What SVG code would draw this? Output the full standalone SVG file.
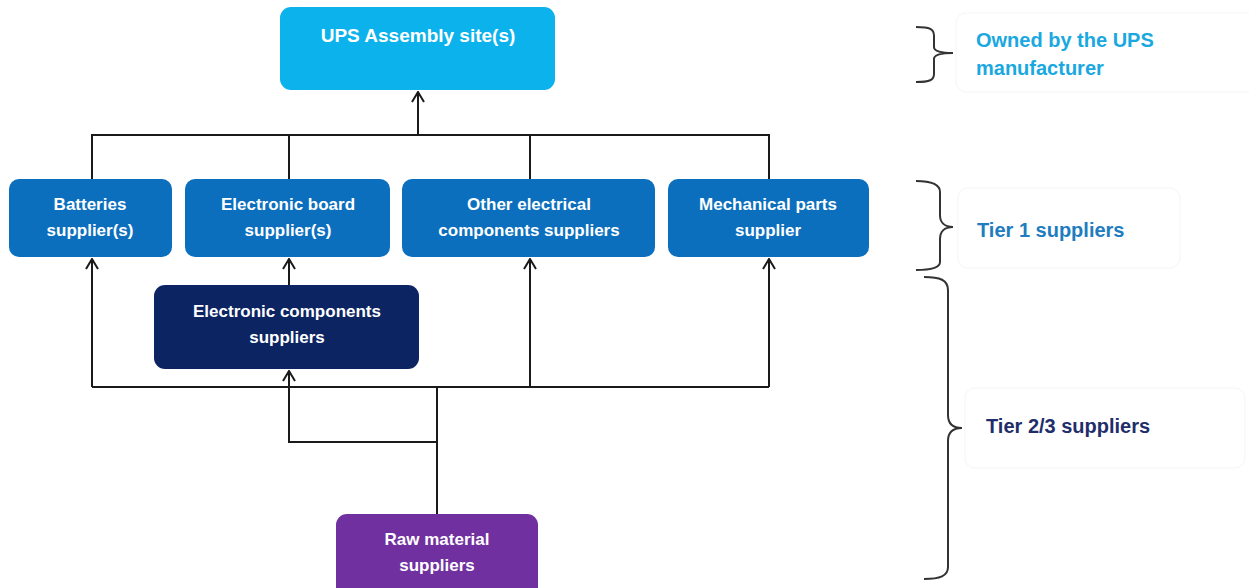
<svg xmlns="http://www.w3.org/2000/svg" width="1249" height="588" viewBox="0 0 1249 588">
<style>
.box{stroke:none}
.t{font-family:"Liberation Sans",Arial,sans-serif;font-weight:bold;fill:#fff;text-anchor:middle;font-size:17px}
.conn{fill:none;stroke:#1a1a1a;stroke-width:2}
.brace{fill:none;stroke:#333;stroke-width:2}
.lab{font-family:"Liberation Sans",Arial,sans-serif;font-weight:bold;font-size:20px}
.lbox{fill:#fff;stroke:#f5f5f5;stroke-width:1}
</style>
<defs>
<marker id="arr" viewBox="0 0 12 14" refX="11" refY="7" markerWidth="12" markerHeight="14" markerUnits="userSpaceOnUse" orient="auto">
<polyline points="1,1 11,7 1,13" fill="none" stroke="#1a1a1a" stroke-width="2"/>
</marker>
</defs>
<rect width="1249" height="588" fill="#fff"/>
<g id="connectors">
<path class="conn" d="M92,180 V135 H769 V180 M289,135 V180 M530,135 V180"/>
<path class="conn" d="M418,135 V92" marker-end="url(#arr)"/>
<path class="conn" d="M437,515 V387"/>
<path class="conn" d="M92,387 H769"/>
<path class="conn" d="M92,387 V259" marker-end="url(#arr)"/>
<path class="conn" d="M530,387 V259" marker-end="url(#arr)"/>
<path class="conn" d="M769,387 V259" marker-end="url(#arr)"/>
<path class="conn" d="M289,285 V259" marker-end="url(#arr)"/>
<path class="conn" d="M437,442 H289 V371" marker-end="url(#arr)"/>
</g>
<g id="ups">
<rect class="box" x="280" y="7" width="275" height="83" rx="11" fill="#0CB2EC"/>
<text class="t" x="418" y="42" style="font-size:19px">UPS Assembly site(s)</text>
</g>
<g id="batteries">
<rect class="box" x="9" y="179" width="163" height="78" rx="10" fill="#0B6FBE"/>
<text class="t" x="90" y="210">Batteries</text>
<text class="t" x="90" y="236">supplier(s)</text>
</g>
<g id="eboard">
<rect class="box" x="185" y="179" width="205" height="78" rx="10" fill="#0B6FBE"/>
<text class="t" x="288" y="210">Electronic board</text>
<text class="t" x="288" y="236">supplier(s)</text>
</g>
<g id="other">
<rect class="box" x="402" y="179" width="253" height="78" rx="10" fill="#0B6FBE"/>
<text class="t" x="529" y="210">Other electrical</text>
<text class="t" x="529" y="236">components suppliers</text>
</g>
<g id="mech">
<rect class="box" x="668" y="179" width="201" height="78" rx="10" fill="#0B6FBE"/>
<text class="t" x="768" y="210">Mechanical parts</text>
<text class="t" x="768" y="236">supplier</text>
</g>
<g id="ecomp">
<rect class="box" x="154" y="285" width="265" height="84" rx="11" fill="#0C2462"/>
<text class="t" x="287" y="317">Electronic components</text>
<text class="t" x="287" y="343">suppliers</text>
</g>
<g id="raw">
<rect class="box" x="336" y="514" width="202" height="84" rx="11" fill="#7030A0"/>
<text class="t" x="437" y="545">Raw material</text>
<text class="t" x="437" y="571">suppliers</text>
</g>
<g id="owned">
<rect class="lbox" x="956" y="13" width="300" height="79" rx="10"/>
<path class="brace" d="M916,27 C930,27 934,29 934,36 V47 C934,51 940,53 953,53 C940,53 934,55 934,59 V74 C934,80 930,82 916,82"/>
<text class="lab" x="976" y="47" fill="#19A8E0">Owned by the UPS</text>
<text class="lab" x="976" y="75" fill="#19A8E0">manufacturer</text>
</g>
<g id="tier1">
<rect class="lbox" x="958" y="188" width="222" height="80" rx="10"/>
<path class="brace" d="M916,181 C930,181 940,184 940,192 V215 C940,222 944,227 953,227 C944,227 940,232 940,239 V262 C940,268 930,270 916,270"/>
<text class="lab" x="977" y="237" fill="#1E7CC0">Tier 1 suppliers</text>
</g>
<g id="tier23">
<rect class="lbox" x="965" y="388" width="280" height="80" rx="10"/>
<path class="brace" d="M924,277 C940,277 948,280 948,290 V415 C948,424 953,428 962,428 C953,428 948,432 948,441 V567 C948,576 940,579 924,579"/>
<text class="lab" x="986" y="433" fill="#1F2E6A">Tier 2/3 suppliers</text>
</g>
</svg>
